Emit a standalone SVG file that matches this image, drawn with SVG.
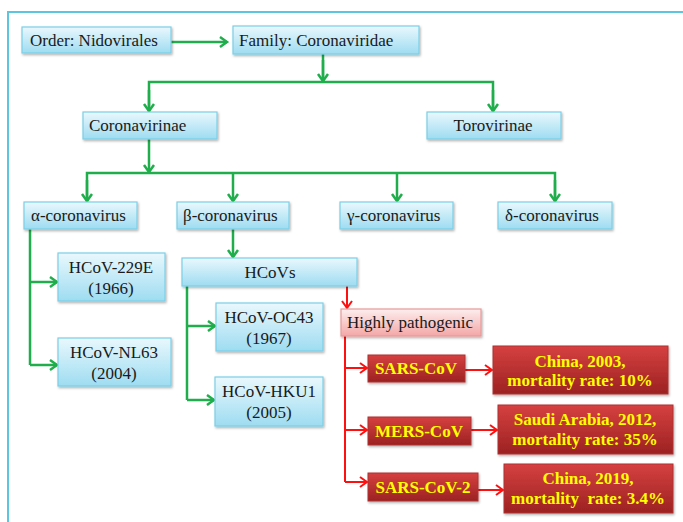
<svg xmlns="http://www.w3.org/2000/svg" width="683" height="522" viewBox="0 0 683 522">
<style>
.b{fill:url(#gb);stroke:#7ccfe6;stroke-width:1.2;filter:url(#sh)}
.p{fill:url(#gp);stroke:#e89a9a;stroke-width:1.2;filter:url(#sh)}
.r{fill:url(#gr);stroke:#b03030;stroke-width:1;filter:url(#sh)}
text{font-family:"Liberation Serif","Times New Roman",serif;font-size:17px;fill:#1a1a1a}
.c{text-anchor:middle}
.y{fill:#ffff00;font-weight:bold;font-size:17px;text-anchor:middle}
.g{fill:none;stroke:#1fae4b;stroke-width:2.5;marker-end:url(#ag)}
.gn{fill:none;stroke:#1fae4b;stroke-width:2.5}
.rd{fill:none;stroke:#ff1010;stroke-width:2;marker-end:url(#ar)}
.rn{fill:none;stroke:#ff1010;stroke-width:2}
</style>
<defs>
<linearGradient id="gb" x1="0" y1="0" x2="0" y2="1"><stop offset="0" stop-color="#e9f8fd"/><stop offset="1" stop-color="#9edcf1"/></linearGradient>
<linearGradient id="gp" x1="0" y1="0" x2="0" y2="1"><stop offset="0" stop-color="#fdeeee"/><stop offset="1" stop-color="#f4a7a7"/></linearGradient>
<linearGradient id="gr" x1="0" y1="0" x2="0" y2="1"><stop offset="0" stop-color="#d64040"/><stop offset="1" stop-color="#9c2222"/></linearGradient>
<filter id="sh" x="-10%" y="-10%" width="130%" height="140%"><feDropShadow dx="1" dy="1.5" stdDeviation="1" flood-color="#000" flood-opacity="0.3"/></filter>
<marker id="ag" markerUnits="userSpaceOnUse" markerWidth="14" markerHeight="14" refX="9" refY="6" orient="auto"><path d="M2,1 L9,6 L2,11" fill="none" stroke="#1fae4b" stroke-width="2.5"/></marker>
<marker id="ar" markerUnits="userSpaceOnUse" markerWidth="14" markerHeight="14" refX="9" refY="6" orient="auto"><path d="M2,1 L9,6 L2,11" fill="none" stroke="#ff1010" stroke-width="2"/></marker>
</defs>
<rect width="683" height="522" fill="#fff"/>
<path d="M8,522 V12 H683" fill="none" stroke="#5cc6e0" stroke-width="2"/>
<g id="connectors">
<path class="g" d="M171,42 H227"/>
<path class="gn" d="M323,54 V82"/>
<path class="g" d="M323,60 V81"/>
<path class="gn" d="M149,112 V82 H493 V112"/>
<path class="g" d="M149,90 V111"/>
<path class="g" d="M493,90 V111"/>
<path class="g" d="M149,139 V172"/>
<path class="gn" d="M87,202 V173 H555 V202"/>
<path class="g" d="M87,180 V201"/>
<path class="g" d="M233,173 V201"/>
<path class="g" d="M397,173 V201"/>
<path class="g" d="M555,180 V201"/>
<path class="g" d="M233,229 V257"/>
<path class="gn" d="M30,229 V365"/>
<path class="g" d="M30,282 H57"/>
<path class="g" d="M30,365 H57"/>
<path class="gn" d="M187,286 V400"/>
<path class="g" d="M187,326 H215"/>
<path class="g" d="M187,400 H214"/>
<path class="rd" d="M347,286 V308"/>
<path class="rn" d="M345,336 V482"/>
<path class="rd" d="M345,368 H367"/>
<path class="rd" d="M345,430 H367"/>
<path class="rd" d="M345,482 H367"/>
<path class="rd" d="M465,370 H492"/>
<path class="rd" d="M471,430 H497"/>
<path class="rd" d="M478,490 H503"/>
</g>
<g id="order"><rect class="b" x="22" y="27" width="149" height="26"/><text x="30" y="46">Order: Nidovirales</text></g>
<g id="family"><rect class="b" x="233" y="26" width="186" height="28"/><text x="239" y="46">Family: Coronaviridae</text></g>
<g id="coronavirinae"><rect class="b" x="83" y="112" width="134" height="27"/><text x="89" y="131">Coronavirinae</text></g>
<g id="torovirinae"><rect class="b" x="427" y="112" width="134" height="27"/><text class="c" x="493" y="131">Torovirinae</text></g>
<g id="alpha"><rect class="b" x="24" y="202" width="113" height="27"/><text x="31" y="221">α-coronavirus</text></g>
<g id="beta"><rect class="b" x="177" y="202" width="112" height="27"/><text x="183" y="221">β-coronavirus</text></g>
<g id="gamma"><rect class="b" x="340" y="202" width="113" height="27"/><text x="347" y="221">γ-coronavirus</text></g>
<g id="delta"><rect class="b" x="498" y="202" width="114" height="27"/><text x="505" y="221">δ-coronavirus</text></g>
<g id="hcovs"><rect class="b" x="182" y="258" width="175" height="28"/><text class="c" x="270" y="278">HCoVs</text></g>
<g id="hcov229e"><rect class="b" x="58" y="253" width="107" height="48"/><text class="c" x="111" y="273">HCoV-229E</text><text class="c" x="111" y="294">(1966)</text></g>
<g id="hcovnl63"><rect class="b" x="58" y="338" width="113" height="48"/><text class="c" x="114" y="358">HCoV-NL63</text><text class="c" x="114" y="379">(2004)</text></g>
<g id="hcovoc43"><rect class="b" x="216" y="303" width="107" height="48"/><text class="c" x="269" y="323">HCoV-OC43</text><text class="c" x="269" y="344">(1967)</text></g>
<g id="hcovhku1"><rect class="b" x="215" y="377" width="108" height="49"/><text class="c" x="269" y="397">HCoV-HKU1</text><text class="c" x="269" y="418">(2005)</text></g>
<g id="highly"><rect class="p" x="341" y="309" width="140" height="27"/><text x="347" y="328">Highly pathogenic</text></g>
<g id="sarscov"><rect class="r" x="368" y="355" width="97" height="27"/><text class="y" x="416" y="374">SARS-CoV</text></g>
<g id="china2003"><rect class="r" x="493" y="346" width="175" height="48"/><text class="y" x="580" y="367">China, 2003,</text><text class="y" x="580" y="386">mortality rate: 10%</text></g>
<g id="merscov"><rect class="r" x="368" y="417" width="103" height="28"/><text class="y" x="419" y="437">MERS-CoV</text></g>
<g id="saudi"><rect class="r" x="498" y="405" width="175" height="49"/><text class="y" x="585" y="425">Saudi Arabia, 2012,</text><text class="y" x="585" y="445">mortality rate: 35%</text></g>
<g id="sarscov2"><rect class="r" x="368" y="473" width="110" height="28"/><text class="y" x="423" y="493">SARS-CoV-2</text></g>
<g id="china2019"><rect class="r" x="504" y="464" width="169" height="49"/><text class="y" x="588" y="484">China, 2019,</text><text class="y" x="588" y="504" xml:space="preserve">mortality  rate: 3.4%</text></g>
</svg>
